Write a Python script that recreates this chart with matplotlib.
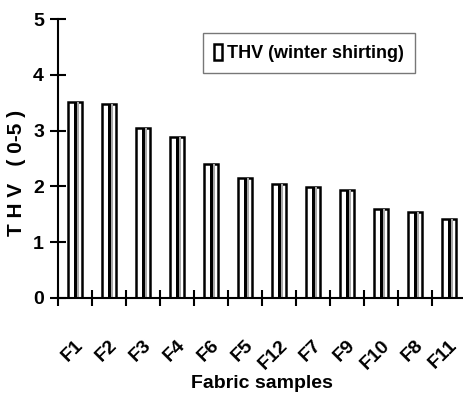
import matplotlib.pyplot as plt
import numpy as np

samples = ['F1', 'F2', 'F3', 'F4', 'F6', 'F5', 'F12', 'F7', 'F9', 'F10', 'F8', 'F11']
thv = [3.52, 3.47, 3.05, 2.89, 2.41, 2.15, 2.04, 1.99, 1.94, 1.59, 1.55, 1.41]
y_ticks = [0, 1, 2, 3, 4, 5]

plt.rcParams['font.family'] = ['Liberation Sans', 'DejaVu Sans']
plt.rcParams['font.weight'] = 'bold'
plt.rcParams['axes.labelweight'] = 'bold'

fig = plt.figure(figsize=(4.64, 4.09), dpi=100)
ax = fig.add_axes([58 / 464, 1 - 298 / 409, 408 / 464, 279 / 409])

x = np.arange(len(samples)) + 0.5
w = 0.44
# white bar with black outline, then the two inner stripes
ax.bar(x, thv, width=w, color='white', edgecolor='black', linewidth=1.8,
       label='THV (winter shirting)')
ax.bar(x + 0.03, thv, width=0.09, color='black', linewidth=0)
ax.bar(x + 0.10, thv, width=0.06, color='#a8a8a8', linewidth=0)

ax.set_ylim(0, 5)
ax.set_xlim(0, 12)
ax.set_yticks(y_ticks)
ax.set_yticklabels([str(v) for v in y_ticks], fontsize=14, fontweight='bold')
ax.set_xticks(np.arange(len(samples)))
ax.set_xticklabels([])
ax.set_xticks(x, minor=True)
ax.set_xticklabels(samples, minor=True, rotation=45, ha='right', rotation_mode='anchor',
                   fontsize=14, fontweight='bold')
ax.tick_params(axis='x', which='minor', length=0, pad=28)
ax.tick_params(axis='both', which='major', direction='inout', length=12, width=1.5)
ax.tick_params(axis='y', pad=4)

for s in ['top', 'right']:
    ax.spines[s].set_visible(False)
for s in ['left', 'bottom']:
    ax.spines[s].set_linewidth(1.5)

ax.set_ylabel('T H V   ( 0-5 )', fontsize=15, fontweight='bold')
ax.yaxis.set_label_coords(-0.078, 0.45)
ax.set_xlabel('Fabric samples', fontsize=14, fontweight='bold', labelpad=2)

leg = ax.legend(loc='upper left', bbox_to_anchor=(0.355, 0.95),
                prop={'size': 13, 'weight': 'bold'},
                frameon=True, fancybox=False, edgecolor='#555555',
                handlelength=0.45, handleheight=1.0, handletextpad=0.3,
                borderpad=0.6, borderaxespad=0)
leg.get_frame().set_linewidth(1.0)

fig.savefig('out.png', dpi=100)
